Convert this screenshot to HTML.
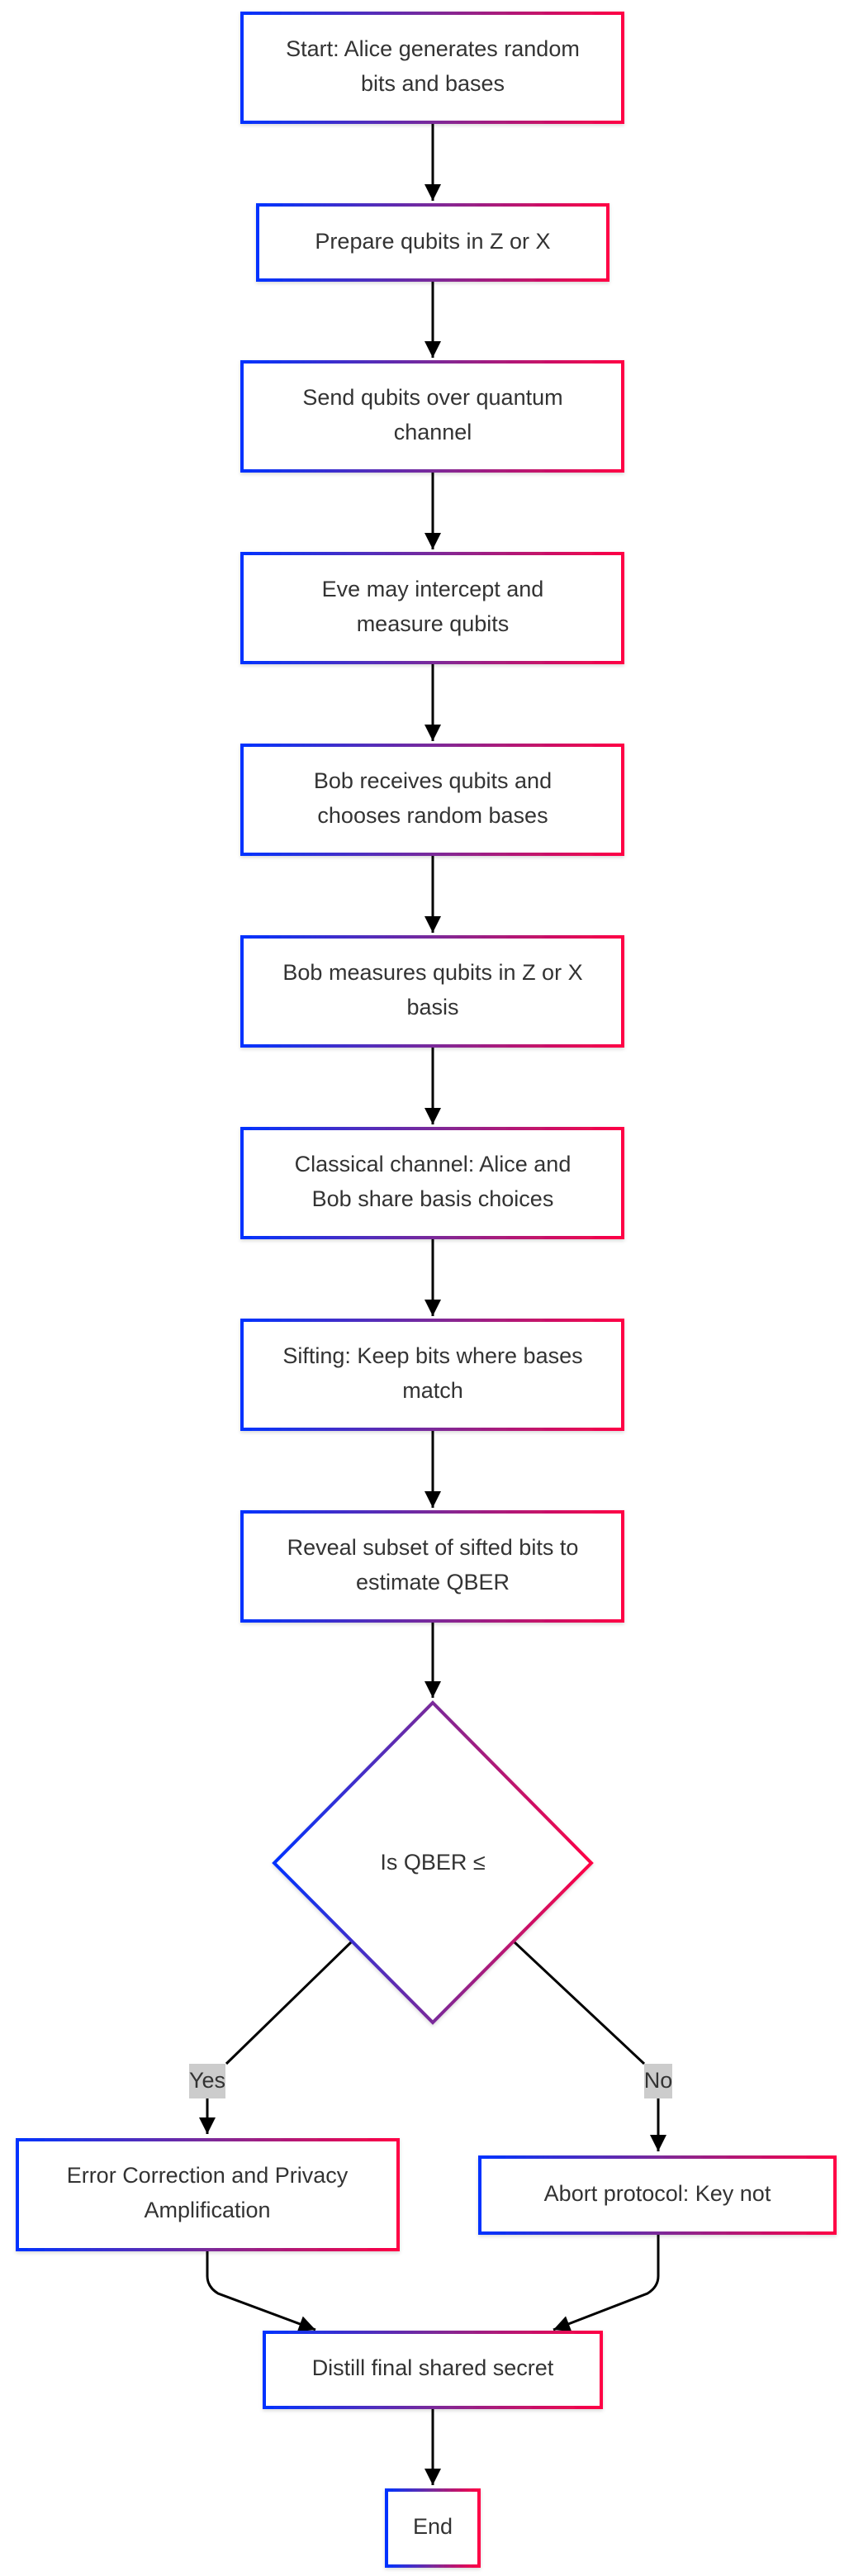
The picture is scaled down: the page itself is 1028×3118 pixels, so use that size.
<!DOCTYPE html>
<html><head><meta charset="utf-8"><style>
html,body{margin:0;padding:0;background:#fff;}
svg{display:block;}
text{font-family:"Liberation Sans",Arial,sans-serif;font-size:27px;fill:#333;text-anchor:middle;dominant-baseline:middle;}
</style></head><body>
<svg width="1028" height="3118" viewBox="0 0 1028 3118" xmlns="http://www.w3.org/2000/svg">
<defs>
<linearGradient id="g" x1="0" y1="0" x2="1" y2="0"><stop offset="0" stop-color="#0033ff"/><stop offset="0.5" stop-color="#7a2a9a"/><stop offset="1" stop-color="#ff0044"/></linearGradient>
<marker id="b" viewBox="0 0 10 10" refX="10" refY="5" markerWidth="24" markerHeight="20" orient="auto" markerUnits="userSpaceOnUse"><path d="M0,0 L10,5 L0,10 z" fill="#000"/></marker>
<filter id="s" x="-5%" y="-5%" width="110%" height="115%"><feDropShadow dx="0" dy="2" stdDeviation="2" flood-color="#000" flood-opacity="0.15"/></filter>
</defs>
<g stroke="#000" stroke-width="3" fill="none" marker-end="url(#b)">
<line x1="524" y1="149" x2="524" y2="243"/>
<line x1="524" y1="340" x2="524" y2="433"/>
<line x1="524" y1="571" x2="524" y2="665"/>
<line x1="524" y1="803" x2="524" y2="897"/>
<line x1="524" y1="1035" x2="524" y2="1129"/>
<line x1="524" y1="1267" x2="524" y2="1361"/>
<line x1="524" y1="1499" x2="524" y2="1593"/>
<line x1="524" y1="1731" x2="524" y2="1825"/>
<line x1="524" y1="1963" x2="524" y2="2055"/>
<line x1="251" y1="2540" x2="251" y2="2583"/>
<line x1="797" y1="2540" x2="797" y2="2604"/>
<path d="M251,2724 L251,2755 Q251,2768 264,2776 L382,2820"/>
<path d="M797,2704 L797,2755 Q797,2768 784,2776 L670,2820"/>
<line x1="524" y1="2915" x2="524" y2="3008"/>
</g>
<g stroke="#000" stroke-width="3">
<line x1="426" y1="2350" x2="274" y2="2498"/>
<line x1="622" y1="2350" x2="780" y2="2498"/>
</g>
<g fill="#fff" stroke="url(#g)" stroke-width="4" filter="url(#s)">
<rect x="293" y="16" width="461" height="132"/>
<rect x="312" y="248" width="424" height="91"/>
<rect x="293" y="438" width="461" height="132"/>
<rect x="293" y="670" width="461" height="132"/>
<rect x="293" y="902" width="461" height="132"/>
<rect x="293" y="1134" width="461" height="132"/>
<rect x="293" y="1366" width="461" height="132"/>
<rect x="293" y="1598" width="461" height="132"/>
<rect x="293" y="1830" width="461" height="132"/>
<rect x="21" y="2590" width="461" height="133"/>
<rect x="581" y="2611" width="430" height="92"/>
<rect x="320" y="2823" width="408" height="91"/>
<rect x="468" y="3014" width="112" height="92"/>
<polygon points="524,2061 716,2255 524,2448 332,2255"/>
</g>
<text x="524" y="61">Start: Alice generates random</text>
<text x="524" y="103">bits and bases</text>
<text x="524" y="294">Prepare qubits in Z or X</text>
<text x="524" y="483">Send qubits over quantum</text>
<text x="524" y="525">channel</text>
<text x="524" y="715">Eve may intercept and</text>
<text x="524" y="757">measure qubits</text>
<text x="524" y="947">Bob receives qubits and</text>
<text x="524" y="989">chooses random bases</text>
<text x="524" y="1179">Bob measures qubits in Z or X</text>
<text x="524" y="1221">basis</text>
<text x="524" y="1411">Classical channel: Alice and</text>
<text x="524" y="1453">Bob share basis choices</text>
<text x="524" y="1643">Sifting: Keep bits where bases</text>
<text x="524" y="1685">match</text>
<text x="524" y="1875">Reveal subset of sifted bits to</text>
<text x="524" y="1917">estimate QBER</text>
<text x="524" y="2256">Is QBER ≤</text>
<rect x="229" y="2498" width="44" height="42" fill="#ccc"/>
<text x="251" y="2520">Yes</text>
<rect x="780" y="2498" width="34" height="42" fill="#ccc"/>
<text x="797" y="2520">No</text>
<text x="251" y="2635">Error Correction and Privacy</text>
<text x="251" y="2677">Amplification</text>
<text x="796" y="2657">Abort protocol: Key not</text>
<text x="524" y="2868">Distill final shared secret</text>
<text x="524" y="3060">End</text>
</svg>
</body></html>
